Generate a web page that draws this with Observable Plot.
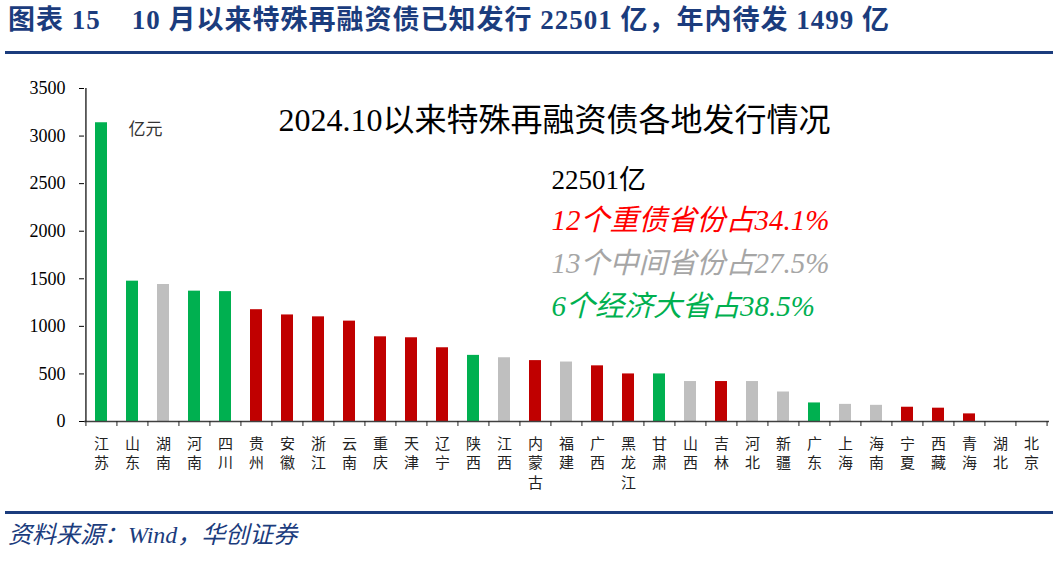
<!DOCTYPE html>
<html><head><meta charset="utf-8">
<script src="https://cdn.jsdelivr.net/npm/d3@7"></script>
<script src="https://cdn.jsdelivr.net/npm/@observablehq/plot@0.6"></script>
<style>
html,body{margin:0;padding:0;background:#fff;}
body{width:1058px;height:570px;position:relative;overflow:hidden;font-family:"Liberation Serif","Noto Sans CJK SC",serif;}
#title{position:absolute;left:8px;top:3px;font-size:27px;line-height:34px;font-weight:bold;color:#1b3c7d;white-space:pre;letter-spacing:1px;}
#topline{position:absolute;left:5px;width:1048px;top:51px;height:3px;background:#1b3c7d;}
#chart{position:absolute;left:0;top:60px;}
#botline{position:absolute;left:5px;width:1048px;top:511px;height:3px;background:#1b3c7d;}
#source{position:absolute;left:8px;top:520px;font-size:24px;line-height:30px;font-style:italic;color:#1b3c7d;white-space:pre;}
</style>
</head><body>
<div id="title">图表 15    10 月以来特殊再融资债已知发行 22501 亿，年内待发 1499 亿</div>
<div id="topline"></div>
<div id="chart"></div>
<div id="botline"></div>
<div id="source">资料来源：Wind，华创证券</div>
<script>
// ---- data ----
const provinces = ["江苏","山东","湖南","河南","四川","贵州","安徽","浙江","云南","重庆","天津","辽宁","陕西","江西","内蒙古","福建","广西","黑龙江","甘肃","山西","吉林","河北","新疆","广东","上海","海南","宁夏","西藏","青海","湖北","北京"];
const values = [3140,1475,1440,1370,1365,1175,1120,1100,1055,890,880,775,695,670,640,625,585,500,500,420,420,420,310,195,180,170,150,140,80,0,0];
const groups = ["大省","大省","中间","大省","大省","重债","重债","重债","重债","重债","重债","重债","大省","中间","重债","中间","重债","重债","大省","中间","重债","中间","中间","大省","中间","中间","重债","重债","重债","中间","中间"];
const groupNames = ["重债","中间","大省"];
const groupColors = ["#c00000","#bfbfbf","#00b050"];
const yTicks = [0,500,1000,1500,2000,2500,3000,3500];
const unitLabel = "亿元";
const innerTitle = "2024.10以来特殊再融资债各地发行情况";
const totalLabel = "22501亿";
const notes = ["12个重债省份占34.1%","13个中间省份占27.5%","6个经济大省占38.5%"];
const noteColors = ["#ff0000","#a6a6a6","#00b050"];

const data = provinces.map((p,i)=>({province:p, value:values[i], group:groups[i]}));

const W=1058, H=445, mL=84, mR=9, mT=28, mB=84;
const step = (W-mL-mR)/provinces.length;
const serif = "'Liberation Serif','Noto Sans CJK SC',serif";
const cjk = "'Noto Sans CJK SC',sans-serif";
const noteDy = [121,164,207];

const chart = Plot.plot({
  width:W, height:H, marginLeft:mL, marginRight:mR, marginTop:mT, marginBottom:mB,
  style:{fontFamily:serif, fontSize:"16px", color:"#000", background:"#fff", overflow:"visible"},
  x:{domain:provinces, paddingInner:0.6, paddingOuter:0.3},
  y:{domain:[0,3500]},
  color:{domain:groupNames, range:groupColors},
  marks:[
    Plot.barY(data,{x:"province", y:"value", fill:"group"}),
    Plot.ruleY([0],{stroke:"#404040", strokeWidth:1.5}),
    Plot.ruleX([provinces[0]],{y1:0, y2:3500, dx:-step/2, stroke:"#000", strokeWidth:1.2}),
    Plot.axisY({ticks:yTicks, tickSize:5, tickPadding:14, tickFormat:d=>String(d), fontSize:18, fontFamily:serif, label:null, stroke:"#000"}),
    Plot.axisX({tickSize:5, tickFormat:()=>"", dx:-step/2, label:null, stroke:"#222"}),
    Plot.axisX({ticks:[provinces[provinces.length-1]], tickSize:5, tickFormat:()=>"", dx:step/2, label:null, stroke:"#222"}),
    Plot.axisX({tickSize:0, tickPadding:14, tickFormat:d=>[...d].join("\n"), lineHeight:1.28, fontSize:15, fontFamily:cjk, label:null, fill:"#222"}),
    Plot.text([unitLabel],{frameAnchor:"top-left", dx:44, dy:34, textAnchor:"start", fontSize:17, fontFamily:cjk, fill:"#333"}),
    Plot.text([innerTitle],{frameAnchor:"top-left", dx:194, dy:20, textAnchor:"start", fontSize:32, fontFamily:serif, fill:"#000"}),
    Plot.text([totalLabel],{frameAnchor:"top-left", dx:467, dy:81, textAnchor:"start", fontSize:27, fontFamily:serif, fill:"#000"}),
    ...notes.map((t,i)=>Plot.text([t],{frameAnchor:"top-left", dx:467, dy:noteDy[i], textAnchor:"start", fontSize:29, fontStyle:"italic", fontFamily:serif, fill:noteColors[i]}))
  ]
});
document.getElementById("chart").appendChild(chart);
</script>
</body></html>
